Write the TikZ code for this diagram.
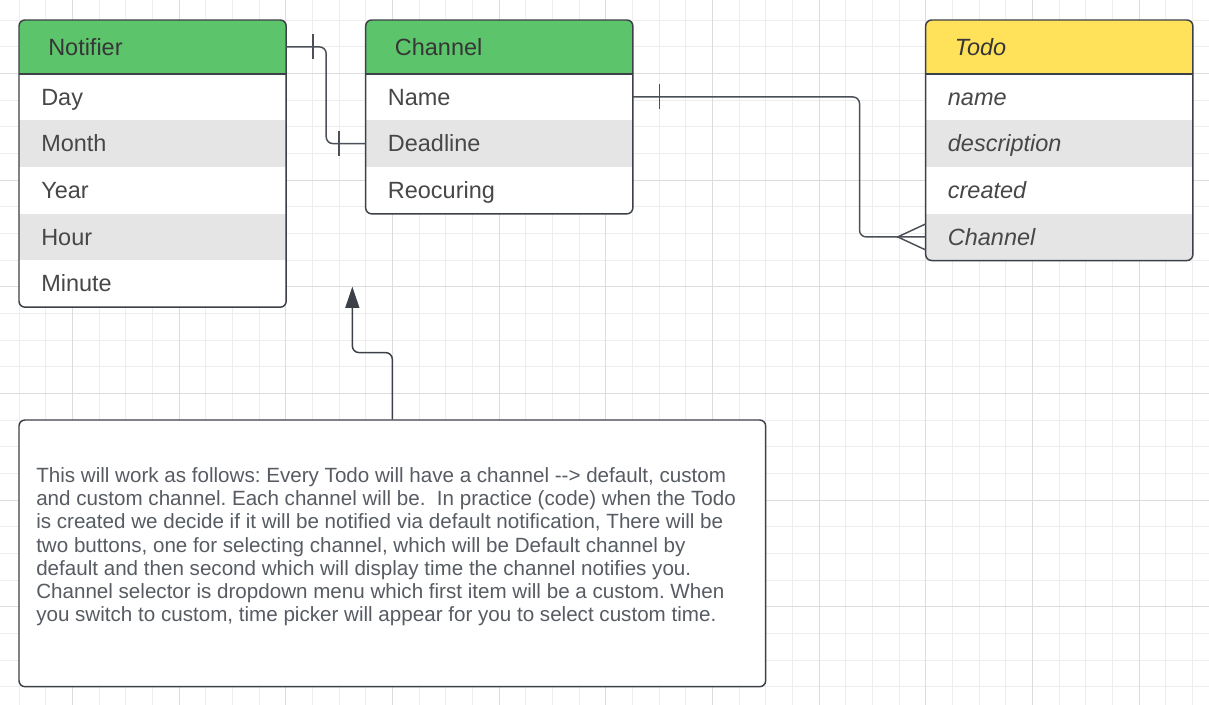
\documentclass[tikz,border=0pt]{standalone}
\usepackage{fontspec}
\setmainfont{Liberation Sans}
\usetikzlibrary{arrows.meta}
\definecolor{gridminor}{HTML}{EDEDED}
\definecolor{gridmajor}{HTML}{DCDCDC}
\definecolor{hgreen}{HTML}{5CC46A}
\definecolor{hyellow}{HTML}{FFE15A}
\definecolor{rowgray}{HTML}{E5E5E5}
\definecolor{edge}{HTML}{3C4047}
\definecolor{wirec}{HTML}{4B5058}
\definecolor{ink}{HTML}{474747}
\definecolor{headink}{HTML}{363636}
\definecolor{noteink}{HTML}{575C63}
\tikzset{
  cell/.style={rectangle, inner ysep=0pt, inner xsep=16.5pt, text width=167pt,
    align=left, minimum height=35pt, text height=12.4pt, text depth=0pt,
    anchor=north west, text=ink, font=\fontsize{17.6}{20}\selectfont},
  head/.style={cell, minimum height=40pt, inner xsep=21.75pt, text width=156.5pt, text=headink},
  frame/.style={draw=edge, line width=1.1pt, rounded corners=4.5pt},
  divider/.style={draw=edge, line width=1.1pt},
  wire/.style={draw=wirec, line width=1.1pt, rounded corners=5pt},
  tick/.style={draw=wirec, line width=1.1pt},
  notebox/.style={rectangle, draw=edge, line width=1.1pt, rounded corners=4.5pt,
    minimum width=560pt, minimum height=200pt, inner sep=0pt, fill=white},
  notetext/.style={anchor=base west, inner sep=0pt, text=noteink,
    font=\fontsize{15.45}{17.5}\selectfont},
  minorline/.style={draw=gridminor, line width=0.6pt},
  majorline/.style={draw=gridmajor, line width=0.7pt},
}
\begin{document}
\begin{tikzpicture}[x=20pt,y=-20pt]
\useasboundingbox (-0.7125,-0.75) rectangle (44.625,25.6875);
\fill[white] (-0.7125,-0.75) rectangle (44.625,25.6875);
% grid
\begin{scope}
\clip (-0.7125,-0.75) rectangle (44.625,25.6875);
\foreach \i in {0,...,44} \draw[minorline] (\i,-1) -- (\i,26);
\foreach \j in {0,...,25} \draw[minorline] (-1,\j) -- (45,\j);
\foreach \i in {2,6,...,42} \draw[majorline] (\i,-1) -- (\i,26);
\foreach \j in {2,6,...,22} \draw[majorline] (-1,\j) -- (45,\j);
\end{scope}

% Notifier
\begin{scope}
\clip[rounded corners=4.5pt] (0,0) rectangle (10,10.75);
\node[head, fill=hgreen] (nhead) at (0,0) {Notifier};
\node[cell, fill=white] (nr1) at (0,2) {Day};
\node[cell, fill=rowgray] (nr2) at (0,3.75) {Month};
\node[cell, fill=white] (nr3) at (0,5.5) {Year};
\node[cell, fill=rowgray] (nr4) at (0,7.25) {Hour};
\node[cell, fill=white] (nr5) at (0,9) {Minute};
\end{scope}
\draw[frame] (nhead.north west) rectangle (nr5.south east);
\draw[divider] (nhead.south west) -- (nhead.south east);

% Channel
\begin{scope}
\clip[rounded corners=4.5pt] (13,0) rectangle (23,7.25);
\node[head, fill=hgreen] (chead) at (13,0) {Channel};
\node[cell, fill=white] (cr1) at (13,2) {Name};
\node[cell, fill=rowgray] (cr2) at (13,3.75) {Deadline};
\node[cell, fill=white] (cr3) at (13,5.5) {Reocuring};
\end{scope}
\draw[frame] (chead.north west) rectangle (cr3.south east);
\draw[divider] (chead.south west) -- (chead.south east);

% Todo
\begin{scope}
\clip[rounded corners=4.5pt] (34,0) rectangle (44,9);
\node[head, fill=hyellow, font=\fontsize{17.6}{20}\selectfont\itshape] (thead) at (34,0) {Todo};
\node[cell, fill=white, font=\fontsize{17.6}{20}\selectfont\itshape] (tr1) at (34,2) {name};
\node[cell, fill=rowgray, font=\fontsize{17.6}{20}\selectfont\itshape] (tr2) at (34,3.75) {description};
\node[cell, fill=white, font=\fontsize{17.6}{20}\selectfont\itshape] (tr3) at (34,5.5) {created};
\node[cell, fill=rowgray, font=\fontsize{17.6}{20}\selectfont\itshape] (tr4) at (34,7.25) {Channel};
\end{scope}
\draw[frame] (thead.north west) rectangle (tr4.south east);
\draw[divider] (thead.south west) -- (thead.south east);

% Notifier -- Channel (one to one)
\draw[wire] (nhead.east) -- ++(1.5,0) |- (cr2.west);
\draw[tick] ([xshift=20pt,yshift=9.4pt]nhead.east) -- ([xshift=20pt,yshift=-9.4pt]nhead.east);
\draw[tick] ([xshift=-20pt,yshift=9.4pt]cr2.west) -- ([xshift=-20pt,yshift=-9.4pt]cr2.west);

% Channel -- Todo (one to many)
\draw[wire] (cr1.east) -- ++(8.5,0) |- (tr4.west);
\draw[tick] ([xshift=20pt,yshift=9.4pt]cr1.east) -- ([xshift=20pt,yshift=-9.4pt]cr1.east);
\draw[tick] ([yshift=9.75pt]tr4.west) -- ([xshift=-21pt]tr4.west) -- ([yshift=-9.75pt]tr4.west);

% Note
\node[notebox] (note) at (14,20) {};
\coordinate (tip) at (12.5,10);
\draw[wire, draw=edge, -{Triangle[length=16pt,width=10.5pt]}] (note.north) -- ++(0,-2.5) -| (tip);

\frenchspacing
\node[notetext] (l1) at (0.6375,17.33) {This will work as follows: Every Todo will have a channel -\kern0pt-\kern0pt> default, custom};
\node[notetext] (l2) at (0.6375,18.204) {and custom channel. Each channel will be.\ \ In practice (code) when the Todo};
\node[notetext] (l3) at (0.6375,19.078) {is created we decide if it will be notified via default notification, There will be};
\node[notetext] (l4) at (0.6375,19.952) {two buttons, one for selecting channel, which will be Default channel by};
\node[notetext] (l5) at (0.6375,20.826) {default and then second which will display time the channel notifies you.};
\node[notetext] (l6) at (0.6375,21.700) {Channel selector is dropdown menu which first item will be a custom. When};
\node[notetext] (l7) at (0.6375,22.574) {you switch to custom, time picker will appear for you to select custom time.};
\end{tikzpicture}
\end{document}
